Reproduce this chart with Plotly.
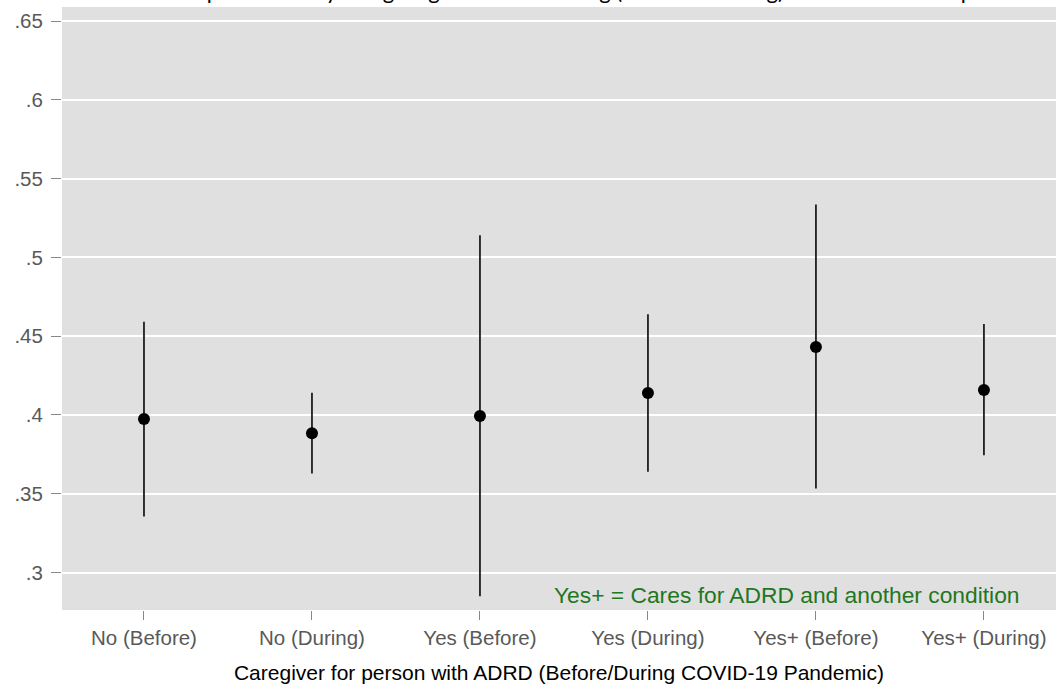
import plotly.graph_objects as go

categories = ["No (Before)", "No (During)", "Yes (Before)", "Yes (During)", "Yes+ (Before)", "Yes+ (During)"]
estimates = [0.3975, 0.3884, 0.3994, 0.4139, 0.4432, 0.4158]
ci_upper = [0.4592, 0.4141, 0.5141, 0.4639, 0.5337, 0.4578]
ci_lower = [0.3356, 0.3628, 0.2850, 0.3639, 0.3534, 0.3745]

y_ticks = [0.3, 0.35, 0.4, 0.45, 0.5, 0.55, 0.6, 0.65]
y_tick_labels = [".3", ".35", ".4", ".45", ".5", ".55", ".6", ".65"]

title_text = "Expected family caregiving status and timing (before or during) of the COVID-19 pandemic"
x_title = "Caregiver for person with ADRD (Before/During COVID-19 Pandemic)"
note_text = "Yes+ = Cares for ADRD and another condition"

xpos = list(range(len(categories)))

fig = go.Figure()
fig.add_trace(go.Scatter(
    x=xpos,
    y=estimates,
    mode="markers",
    marker=dict(color="black", size=12),
    error_y=dict(
        type="data",
        symmetric=False,
        array=[u - e for u, e in zip(ci_upper, estimates)],
        arrayminus=[e - l for e, l in zip(estimates, ci_lower)],
        color="#1e1e1e",
        thickness=1.8,
        width=0,
    ),
    showlegend=False,
))

fig.update_layout(
    width=1056,
    height=689,
    margin=dict(l=62, r=0, t=7, b=79),
    paper_bgcolor="white",
    plot_bgcolor="#e0e0e0",
    font=dict(family="Liberation Sans, Arial, sans-serif", size=20, color="#595959"),
    xaxis=dict(
        range=[-0.488, 5.429],
        tickmode="array",
        tickvals=xpos,
        ticktext=categories,
        showgrid=False,
        zeroline=False,
        ticks="outside",
        ticklen=9,
        tickwidth=1,
        tickcolor="#888888",
        tickfont=dict(size=20.5, color="#595959"),
        title=dict(text=x_title, font=dict(size=21, color="black"), standoff=17),
    ),
    yaxis=dict(
        range=[0.2762, 0.659],
        tickmode="array",
        tickvals=y_ticks,
        ticktext=y_tick_labels,
        showgrid=True,
        gridcolor="white",
        gridwidth=1.5,
        zeroline=False,
        ticks="outside",
        ticklen=10,
        tickwidth=1,
        tickcolor="#888888",
        tickfont=dict(size=20.5, color="#595959"),
        ticklabelstandoff=4,
    ),
    annotations=[
        dict(
            text=note_text,
            xref="x", yref="y",
            x=5.225, y=0.2858,
            xanchor="right", yanchor="middle",
            showarrow=False,
            font=dict(size=22.8, color="#1f771f", family="Liberation Sans, Arial, sans-serif"),
        ),
        dict(
            text=title_text,
            xref="paper", yref="paper",
            x=1.0, y=1.0,
            xanchor="right", yanchor="bottom",
            yshift=1,
            showarrow=False,
            font=dict(size=22, color="black", family="Lato, sans-serif"),
        ),
    ],
)

fig.write_html("out.html")
